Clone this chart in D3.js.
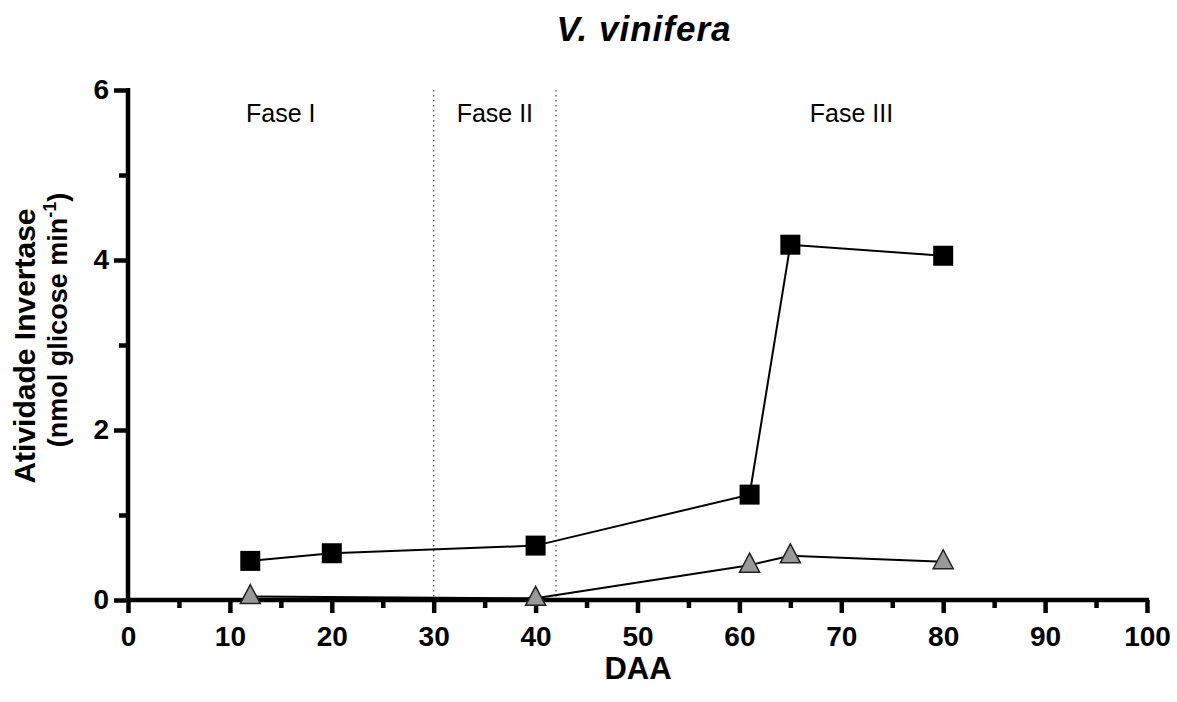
<!DOCTYPE html>
<html>
<head>
<meta charset="utf-8">
<script src="https://cdn.jsdelivr.net/npm/d3@7"></script>
<style>
  body { margin: 0; background: #fff; }
  text { font-family: "Liberation Sans", Arial, sans-serif; }
</style>
</head>
<body>
<script>
// data
const daaSquares = [12, 20, 40, 61, 65, 80];
const invSquares = [0.46, 0.55, 0.64, 1.24, 4.18, 4.05];
const daaTriangles = [12, 40, 61, 65, 80];
const invTriangles = [0.04, 0.02, 0.41, 0.52, 0.45];
const phaseBounds = [30, 42];
const phaseLabels = [{ text: 'Fase I', x: 15 }, { text: 'Fase II', x: 36 }, { text: 'Fase III', x: 71 }];
const xTicks = [0, 10, 20, 30, 40, 50, 60, 70, 80, 90, 100];
const yTicks = [0, 2, 4, 6];

let width = 1177;
let height = 702;
let svg = d3.select('body').append('svg')
   .attr('width', width)
   .attr('height', height);

let xScale = d3.scaleLinear().domain([0, 100]).range([128, 1147]);
let yScale = d3.scaleLinear().domain([0, 6]).range([600, 90]);

// title
svg.append('text')
   .attr('x', 644).attr('y', 41)
   .attr('text-anchor', 'middle')
   .style('font-size', '35px').style('font-weight', 'bold').style('font-style', 'italic')
   .style('letter-spacing', '1px')
   .text('V. vinifera');

// phase dividers
svg.selectAll('.phase-line')
   .data(phaseBounds)
   .enter().append('line')
   .attr('x1', d => xScale(d)).attr('x2', d => xScale(d))
   .attr('y1', yScale(6)).attr('y2', yScale(0))
   .attr('stroke', '#555').attr('stroke-width', 1.3)
   .attr('stroke-dasharray', '1.5,3.5');

svg.selectAll('.phase-label')
   .data(phaseLabels)
   .enter().append('text')
   .attr('x', d => xScale(d.x)).attr('y', 122)
   .attr('text-anchor', 'middle')
   .style('font-size', '25px')
   .text(d => d.text);

// axes
let xAxis = d3.axisBottom(xScale).tickValues(xTicks).tickSize(13).tickPadding(13).tickFormat(d3.format('d'));
let xMinor = d3.axisBottom(xScale).tickValues(d3.range(5, 100, 10)).tickSize(8).tickFormat('');
let yAxis = d3.axisLeft(yScale).tickValues(yTicks).tickSize(14).tickPadding(5).tickFormat(d3.format('d'));
let yMinor = d3.axisLeft(yScale).tickValues([1, 3, 5]).tickSize(9).tickFormat('');

let gx = svg.append('g').attr('transform', 'translate(0,' + yScale(0) + ')').call(xAxis);
let gxm = svg.append('g').attr('transform', 'translate(0,' + yScale(0) + ')').call(xMinor);
let gy = svg.append('g').attr('transform', 'translate(' + xScale(0) + ',0)').call(yAxis);
let gym = svg.append('g').attr('transform', 'translate(' + xScale(0) + ',0)').call(yMinor);

[gx, gxm, gy, gym].forEach(g => {
   g.attr('font-size', null).attr('font-family', null);
   g.select('.domain').attr('stroke', '#000').attr('stroke-width', 4.5);
   g.selectAll('.tick line').attr('stroke', '#000').attr('stroke-width', 4.5);
   g.selectAll('.tick text')
      .style('font-size', '28px').style('font-weight', 'bold').attr('fill', '#000');
});
gxm.select('.domain').remove();
gym.select('.domain').remove();
// straight domains without outer ticks
gx.select('.domain').attr('d', 'M' + (xScale(0) - 2) + ',0H' + (xScale(100) + 2));
gy.select('.domain').attr('d', 'M0,' + (yScale(0) + 2) + 'V' + (yScale(6) - 2));

// axis titles
svg.append('text')
   .attr('x', 638).attr('y', 679)
   .attr('text-anchor', 'middle')
   .style('font-size', '31px').style('font-weight', 'bold')
   .text('DAA');

svg.append('text')
   .attr('transform', 'translate(35,346) rotate(-90)')
   .attr('text-anchor', 'middle')
   .style('font-size', '30px').style('font-weight', 'bold')
   .text('Atividade Invertase');

let l2 = svg.append('text')
   .attr('transform', 'translate(67,320) rotate(-90)')
   .attr('text-anchor', 'middle')
   .style('font-size', '27px').style('font-weight', 'bold');
l2.append('tspan').text('(nmol glicose min');
l2.append('tspan').attr('dy', -11).style('font-size', '18px').text('-1');
l2.append('tspan').attr('dy', 11).text(')');

// lines
let line = d3.line().x(d => xScale(d[0])).y(d => yScale(d[1]));
let sqData = daaSquares.map((d, i) => [d, invSquares[i]]);
let trData = daaTriangles.map((d, i) => [d, invTriangles[i]]);

svg.append('path').datum(trData)
   .attr('d', line).attr('fill', 'none').attr('stroke', '#000').attr('stroke-width', 2);
svg.append('path').datum(sqData)
   .attr('d', line).attr('fill', 'none').attr('stroke', '#000').attr('stroke-width', 2);

svg.selectAll('.tri')
   .data(trData)
   .enter().append('path')
   .attr('transform', d => 'translate(' + xScale(d[0]) + ',' + yScale(d[1]) + ')')
   .attr('d', 'M0,-12L10,7L-10,7Z')
   .attr('fill', '#999').attr('stroke', '#222').attr('stroke-width', 1.5);

svg.selectAll('.sq')
   .data(sqData)
   .enter().append('rect')
   .attr('x', d => xScale(d[0]) - 10).attr('y', d => yScale(d[1]) - 10)
   .attr('width', 20).attr('height', 20)
   .attr('fill', '#000');
</script>
</body>
</html>
